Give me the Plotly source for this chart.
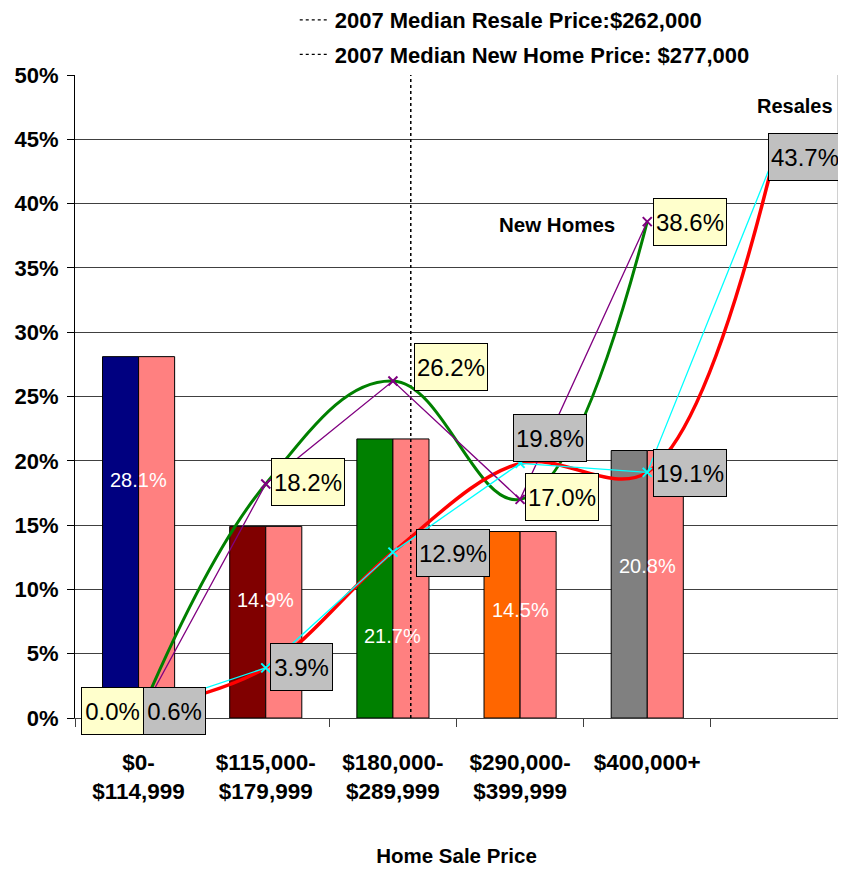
import plotly.graph_objects as go

# ---------------- data ----------------
categories = ["$0-<br>$114,999", "$115,000-<br>$179,999", "$180,000-<br>$289,999",
              "$290,000-<br>$399,999", "$400,000+", ""]
bar_values = [28.1, 14.9, 21.7, 14.5, 20.8]
bar_colors = ["#000080", "#800000", "#008000", "#FF6600", "#808080"]
bar_labels = ["28.1%", "14.9%", "21.7%", "14.5%", "20.8%"]

new_homes = [0.0, 18.2, 26.2, 17.0, 38.6]
resales = [0.6, 3.9, 12.9, 19.8, 19.1, 43.7]

median_names = ["2007 Median Resale Price:$262,000", "2007 Median New Home Price: $277,000"]
median_x = [2.14, 2.14]

# label placement (pixel offsets) kept separately
bar_label_y = [18.5, 9.2, 6.4, 8.4, 11.8]
new_offsets = [(-26, 7), (42, 2), (58, 14), (42, 2), (43, 0)]
res_offsets = [(36, -1), (36, 1), (60, -1), (30, 25), (43, -1), (31, -1)]

FONT = "Liberation Sans, Arial, sans-serif"

xs_bar = list(range(len(bar_values)))
xs_new = list(range(len(new_homes)))
xs_res = list(range(len(resales)))

fig = go.Figure()

fig.add_trace(go.Bar(x=xs_bar, y=bar_values, marker=dict(color=bar_colors, line=dict(color="black", width=1)),
                     showlegend=False, hoverinfo="skip"))
fig.add_trace(go.Bar(x=xs_bar, y=bar_values, marker=dict(color="#FF8080", line=dict(color="black", width=1)),
                     showlegend=False, hoverinfo="skip"))

for i, (name, mx) in enumerate(zip(median_names, median_x)):
    fig.add_trace(go.Scatter(x=[mx, mx], y=[0, 50], mode="lines", name=name, legendgroup=f"g{i}",
                             line=dict(color="black", width=1.2, dash="dot"), hoverinfo="skip"))

# smoothed curves
fig.add_trace(go.Scatter(x=xs_new, y=new_homes, mode="lines", showlegend=False,
                         line=dict(color="#008000", width=3, shape="spline", smoothing=1.15), hoverinfo="skip"))
fig.add_trace(go.Scatter(x=xs_res, y=resales, mode="lines", showlegend=False,
                         line=dict(color="#FF0000", width=3.5, shape="spline", smoothing=1.0), hoverinfo="skip"))
# straight lines with markers
fig.add_trace(go.Scatter(x=xs_new, y=new_homes, mode="lines+markers", showlegend=False,
                         line=dict(color="#800080", width=1.3),
                         marker=dict(symbol="x-thin-open", size=9, line=dict(color="#800080", width=2)),
                         hoverinfo="skip"))
fig.add_trace(go.Scatter(x=xs_res, y=resales, mode="lines+markers", showlegend=False,
                         line=dict(color="#00FFFF", width=1.3),
                         marker=dict(symbol="x-thin-open", size=9, line=dict(color="#00CCCC", width=2)),
                         hoverinfo="skip"))

annotations = []
for x, y, t in zip(xs_bar, bar_label_y, bar_labels):
    annotations.append(dict(x=x, y=y, text=t, showarrow=False,
                            font=dict(family=FONT, size=20, color="white")))


def box(x, y, off, fill):
    t = f"{y:.1f}%"
    return dict(x=x, y=y, text=t, showarrow=False, xshift=off[0], yshift=off[1],
                font=dict(family=FONT, size=24, color="black"),
                bgcolor=fill, bordercolor="black", borderwidth=1,
                width=59 if len(t) <= 4 else 70, height=44)


for x, y, off in zip(xs_new, new_homes, new_offsets):
    annotations.append(box(x, y, off, "#FFFFCC"))
for x, y, off in zip(xs_res, resales, res_offsets):
    annotations.append(box(x, y, off, "#C0C0C0"))

annotations.append(dict(x=2.82, y=38.4, text="<b>New Homes</b>", showarrow=False, xanchor="left",
                        font=dict(family=FONT, size=20.5, color="black")))
annotations.append(dict(x=5.475, y=47.6, text="<b>Resales</b>", showarrow=False, xanchor="right",
                        font=dict(family=FONT, size=20, color="black")))

# page has an 8px body margin, so figure coords = screen coords - 8
fig.update_layout(
    width=846, height=872,
    margin=dict(l=67, r=16, t=67, b=162, autoexpand=False),
    paper_bgcolor="white", plot_bgcolor="white",
    barmode="group", bargap=0.433, bargroupgap=0,
    font=dict(family=FONT, color="black"),
    annotations=annotations,
    showlegend=True,
    legend=dict(x=0.288, y=1 + 76 / 643, xanchor="left", yanchor="top", bgcolor="rgba(0,0,0,0)",
                font=dict(family=FONT, size=22, color="black", weight="bold"),
                tracegroupgap=3, itemwidth=30),
    xaxis=dict(range=[-0.5, 5.5], tickmode="array", tickvals=list(range(len(categories))),
               ticktext=[f"<b>{c}</b>" for c in categories], ticks="", automargin=False,
               tickfont=dict(family=FONT, size=22.5, color="black"), ticklabelstandoff=24,
               showgrid=False, zeroline=False, showline=True, linecolor="#404040", linewidth=1,
               minor=dict(ticks="outside", tickmode="linear", tick0=-0.5, dtick=1, ticklen=8,
                          tickcolor="#404040", showgrid=False),
               title=dict(text="<b>Home Sale Price</b>", font=dict(family=FONT, size=20.5, color="black"),
                          standoff=45)),
    yaxis=dict(range=[0, 50], dtick=5, ticksuffix="%", ticks="outside", ticklen=7, tickcolor="black",
               automargin=False, ticklabelstandoff=4,
               tickfont=dict(family=FONT, size=22, color="black", weight="bold"),
               showgrid=True, gridcolor="#404040", gridwidth=1, zeroline=False,
               showline=True, linecolor="black", linewidth=1),
    shapes=[dict(type="line", xref="paper", yref="paper", x0=1, x1=1, y0=0, y1=1,
                 line=dict(color="#A0A0A0", width=1))],
)

fig.write_html("out.html")
